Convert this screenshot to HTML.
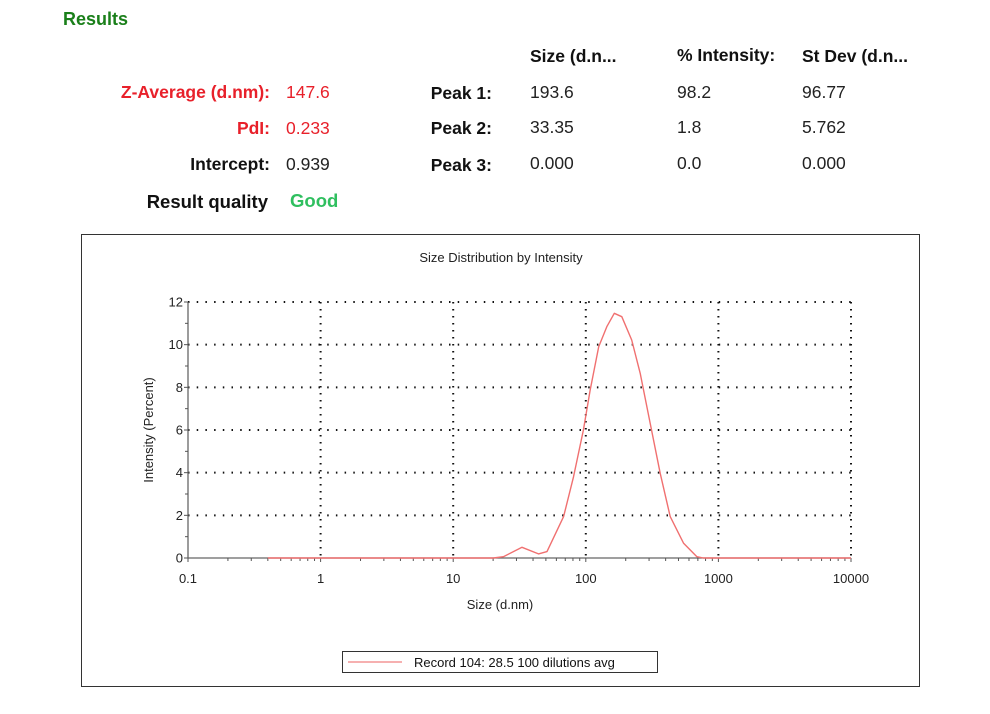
<!DOCTYPE html>
<html><head><meta charset="utf-8"><style>
html,body{margin:0;padding:0;background:#fff;}
svg{display:block;font-family:"Liberation Sans",Arial,sans-serif;}
</style></head><body>
<svg id="svg" width="990" height="714" viewBox="0 0 990 714">
<g>
<text x="63" y="25" font-size="18" font-weight="bold" fill="#1a7f1a">Results</text>
<g font-size="17.5" font-weight="bold" fill="#111">
<text x="530" y="62">Size (d.n...</text>
<text x="677" y="61">% Intensity:</text>
<text x="802" y="62">St Dev (d.n...</text>
<text x="270" y="98" text-anchor="end" fill="#e8202a">Z-Average (d.nm):</text>
<text x="270" y="134" text-anchor="end" fill="#e8202a">PdI:</text>
<text x="270" y="170" text-anchor="end">Intercept:</text>
<text x="268" y="208" text-anchor="end" font-size="18.5">Result quality</text>
<text x="492" y="99" text-anchor="end">Peak 1:</text>
<text x="492" y="134" text-anchor="end">Peak 2:</text>
<text x="492" y="171" text-anchor="end">Peak 3:</text>
<text x="290" y="207" font-size="18.5" fill="#2fbf5f">Good</text>
</g>
<g font-size="17.5" fill="#222">
<text x="286" y="98" fill="#e8202a">147.6</text>
<text x="286" y="134" fill="#e8202a">0.233</text>
<text x="286" y="170">0.939</text>
<text x="530" y="98">193.6</text>
<text x="677" y="98">98.2</text>
<text x="802" y="98">96.77</text>
<text x="530" y="133">33.35</text>
<text x="677" y="133">1.8</text>
<text x="802" y="133">5.762</text>
<text x="530" y="169">0.000</text>
<text x="677" y="169">0.0</text>
<text x="802" y="169">0.000</text>
</g>
</g>
<rect x="81.5" y="234.5" width="838" height="452" fill="#fff" stroke="#333" stroke-width="1"/>
<text x="501" y="262" font-size="13" text-anchor="middle" fill="#222">Size Distribution by Intensity</text>
<g id="grid"></g>
<g id="axes"></g>
<g id="series"></g>
<text x="500" y="609" font-size="13" text-anchor="middle" fill="#222">Size (d.nm)</text>
<text transform="translate(153,430) rotate(-90)" font-size="13" text-anchor="middle" fill="#222">Intensity (Percent)</text>
<g>
<rect x="342.5" y="651.5" width="315" height="21" fill="#fff" stroke="#333"/>
<line x1="348" y1="662" x2="402" y2="662" stroke="#f08080" stroke-width="1.3"/>
<text x="414" y="667" font-size="13" fill="#111">Record 104: 28.5 100 dilutions avg</text>
</g>
</svg>
<script>
const xTicks=[0.1,1,10,100,1000,10000];
const xTickLabels=["0.1","1","10","100","1000","10000"];
const yTicks=[0,2,4,6,8,10,12];
const sizes=[0.4,1,5,10,20.1,23.9,33,44,51,68,80.8,96,108,125,144,164,187,222,257,306,364,433,546,689,769,1000,5000,10000];
const intensity=[0,0,0,0,0,0.06,0.5,0.19,0.3,1.94,3.8,6.0,7.88,9.9,10.84,11.47,11.31,10.22,8.66,6.31,3.97,1.94,0.69,0.06,0,0,0,0];
const NS="http://www.w3.org/2000/svg";
const X0=188,X1=851,Y0=558,Y1=302;
function sx(v){return X0+(Math.log10(v)-Math.log10(0.1))/(Math.log10(10000)-Math.log10(0.1))*(X1-X0);}
function sy(v){return Y0-(v/12)*(Y0-Y1);}
function mk(tag,attrs,parent){const e=document.createElementNS(NS,tag);for(const k in attrs)e.setAttribute(k,attrs[k]);parent.appendChild(e);return e;}
const grid=document.getElementById('grid'),axes=document.getElementById('axes'),series=document.getElementById('series');
yTicks.forEach(v=>{if(v===0)return;const l=mk('line',{x1:X0,x2:X1,y1:sy(v),y2:sy(v),stroke:'#111','stroke-width':2,'stroke-dasharray':'1.5 7.2'},grid);

});
xTicks.forEach(v=>{if(v===0.1)return;const l=mk('line',{x1:sx(v),x2:sx(v),y1:Y1,y2:Y0,stroke:'#111','stroke-width':2,'stroke-dasharray':'1.5 5.5'},grid);

});
mk('line',{x1:X0,x2:X0,y1:Y1,y2:Y0,stroke:'#666','stroke-width':1.3},axes);
mk('line',{x1:X0,x2:X1,y1:Y0,y2:Y0,stroke:'#666','stroke-width':1.3},axes);
yTicks.forEach(v=>{mk('line',{x1:X0-4,x2:X0,y1:sy(v),y2:sy(v),stroke:'#555'},axes);
if(v<12)mk('line',{x1:X0-3,x2:X0,y1:sy(v+1),y2:sy(v+1),stroke:'#555'},axes);
const t=mk('text',{x:X0-5,y:sy(v)+4.5,'font-size':13,'text-anchor':'end',fill:'#222'},axes);t.textContent=v;

});
xTicks.forEach((v,i)=>{
const t=mk('text',{x:sx(v),y:Y0+25,'font-size':13,'text-anchor':'middle',fill:'#222'},axes);t.textContent=xTickLabels[i];


if(i<xTicks.length-1){for(let m=2;m<=9;m++){mk('line',{x1:sx(v*m),x2:sx(v*m),y1:Y0,y2:Y0+3,stroke:'#555'},axes);}}
mk('line',{x1:sx(v),x2:sx(v),y1:Y0,y2:Y0+4,stroke:'#555'},axes);});
const d=sizes.map((s,i)=>(i?'L':'M')+sx(s).toFixed(1)+','+sy(intensity[i]).toFixed(1)).join(' ');
const p=mk('path',{d:d,fill:'none',stroke:'#f07070','stroke-width':1.4,'stroke-linejoin':'round'},series);


</script>
</body></html>
